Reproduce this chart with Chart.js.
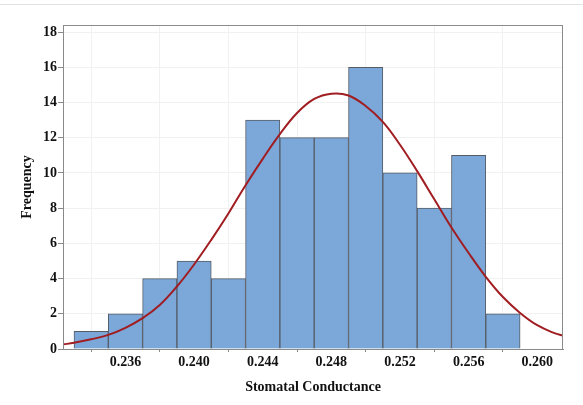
<!DOCTYPE html>
<html>
<head>
<meta charset="utf-8">
<script src="https://cdn.jsdelivr.net/npm/chart.js@4/dist/chart.umd.min.js"></script>
<style>
  html, body { margin: 0; padding: 0; background: #fff; }
  #wrap { position: relative; width: 583px; height: 405px; }
  #topline { position: absolute; left: 0; top: 4px; width: 583px; height: 1px; background: #e2e2e2; }
</style>
</head>
<body>
<div id="wrap">
  <div id="topline"></div>
  <canvas id="hist" width="583" height="405"></canvas>
</div>
<script>
(function () {
  "use strict";

  /* ---------- Dados ---------- */
  const binCenters = [0.234, 0.236, 0.238, 0.240, 0.242, 0.244, 0.246, 0.248, 0.250, 0.252, 0.254, 0.256, 0.258];
  const counts     = [1, 2, 4, 5, 4, 13, 12, 12, 16, 10, 8, 11, 2];

  // curva normal ajustada, lida ponto a ponto da figura
  const curveX = [0.23236, 0.233, 0.234, 0.235, 0.236, 0.237, 0.238, 0.239, 0.240, 0.241, 0.242, 0.243, 0.244, 0.245, 0.246,
                  0.247, 0.248, 0.249, 0.250, 0.251, 0.252, 0.253, 0.254, 0.255, 0.256, 0.257, 0.258, 0.259, 0.260, 0.261, 0.2615];
  const curveY = [0.26, 0.35, 0.55, 0.80, 1.2, 1.75, 2.5, 3.55, 4.8, 6.2, 7.7, 9.3, 10.8, 12.2, 13.4,
                  14.2, 14.5, 14.4, 13.8, 12.9, 11.6, 10.1, 8.5, 6.9, 5.45, 4.1, 2.95, 2.05, 1.35, 0.9, 0.76];

  const xTicks = [0.236, 0.240, 0.244, 0.248, 0.252, 0.256, 0.260];
  const yTicks = [0, 2, 4, 6, 8, 10, 12, 14, 16, 18];

  /* ---------- Estilo ---------- */
  const BAR_FILL   = "#7ba7d9";
  const BAR_EDGE   = "#565c66";
  const CURVE      = "#a01d22";
  const GRID       = "#f1f1f1";
  const FRAME      = "#8a8a8a";
  const FONT       = { family: "'Liberation Serif', 'Times New Roman', serif", size: 14, weight: "bold" };

  const framePlugin = {
    id: "frame",
    afterDatasetsDraw(chart) {
      const { ctx, chartArea: a } = chart;
      ctx.save();
      ctx.strokeStyle = FRAME;
      ctx.lineWidth = 1;
      ctx.strokeRect(a.left + 0.5, a.top + 0.5, a.right - a.left - 1, a.bottom - a.top);
      ctx.restore();
    },
  };

  new Chart(document.getElementById("hist"), {
    type: "bar",
    data: {
      datasets: [
        {
          type: "line",
          label: "Normal",
          data: curveX.map((x, i) => ({ x, y: curveY[i] })),
          borderColor: CURVE,
          borderWidth: 2,
          pointRadius: 0,
          tension: 0.4,
          fill: false,
          order: 0,
        },
        {
          label: "Frequency",
          data: binCenters.map((x, i) => ({ x, y: counts[i] })),
          backgroundColor: BAR_FILL,
          borderColor: BAR_EDGE,
          borderWidth: 1,
          barPercentage: 1,
          categoryPercentage: 1,
          order: 1,
        },
      ],
    },
    options: {
      responsive: false,
      animation: false,
      layout: { padding: { left: 0, right: 20, top: 25, bottom: 5 } },
      plugins: { legend: { display: false }, tooltip: { enabled: false } },
      scales: {
        x: {
          type: "linear",
          offset: false,
          min: 0.23236,
          max: 0.2615,
          afterBuildTicks(axis) { axis.ticks = xTicks.map(v => ({ value: v })); },
          afterFit(axis) { axis.height = 51; },
          ticks: { color: "#111", font: FONT, padding: 2, maxRotation: 0, callback: v => v.toFixed(3) },
          grid: { color: GRID, tickColor: FRAME, tickLength: 3 },
          border: { color: FRAME },
          title: { display: true, text: "Stomatal Conductance", color: "#111", font: FONT, padding: { top: 6 } },
        },
        y: {
          min: 0,
          max: 18.4,
          afterBuildTicks(axis) { axis.ticks = yTicks.map(v => ({ value: v })); },
          afterFit(axis) { axis.width = 63; },
          ticks: { color: "#111", font: FONT, padding: 1 },
          grid: { color: GRID, tickColor: FRAME, tickLength: 5 },
          border: { color: FRAME },
          title: { display: true, text: "Frequency", color: "#111", font: FONT, padding: { bottom: 0, top: 19 } },
        },
      },
    },
    plugins: [framePlugin],
  });
})();
</script>
</body>
</html>
